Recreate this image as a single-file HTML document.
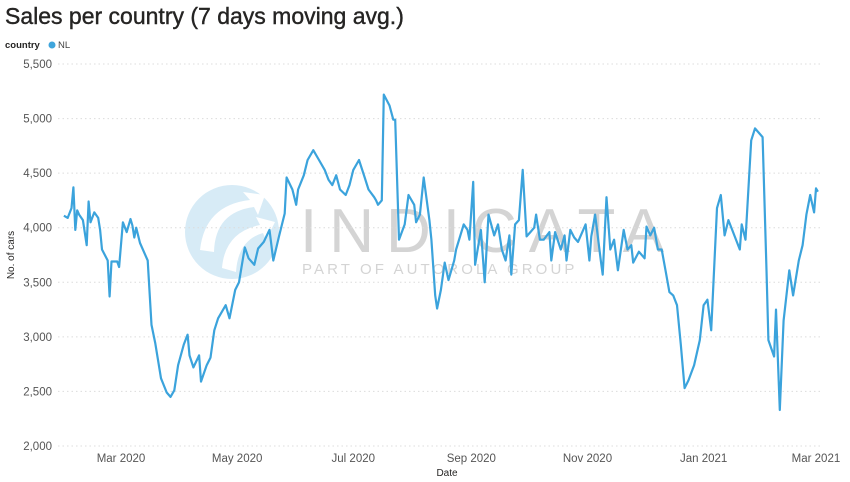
<!DOCTYPE html>
<html><head><meta charset="utf-8"><style>
body{margin:0;background:#fff;font-family:"Liberation Sans",sans-serif}
svg{display:block}
</style></head><body>
<svg width="850" height="482" id="chart">
<text x="5" y="24" font-size="23" fill="#252423" stroke="#252423" stroke-width="0.4">Sales per country (7 days moving avg.)</text>
<text x="5" y="48" font-size="9.5" font-weight="bold" fill="#252423">country</text>
<g><circle cx="52" cy="45" r="3.5" fill="#3fa5dc"/><text x="58" y="48" font-size="9.5" fill="#444">NL</text></g>
<g opacity="0.9">
<circle cx="232" cy="232" r="47" fill="#d3e9f6"/>
<path d="M200 250 Q205 205 250 200 L243 192 L265 195 L258 215 L254 207 Q215 212 214 252 Z" fill="#fff"/>
<path d="M222 268 Q225 232 260 225 L256 217 L275 222 L266 240 L263 233 Q238 240 236 272 Z" fill="#fff"/>
<text x="300" y="252" font-size="62" fill="#d0d0d0" letter-spacing="12">INDICATA</text>
<text x="302" y="274" font-size="15" fill="#d0d0d0" letter-spacing="3.1">PART OF AUTOROLA GROUP</text>
</g>
<g id="grid"></g>
<g id="yticks"></g>
<g id="xticks"></g>
<text x="447" y="476" font-size="10" fill="#252423" text-anchor="middle">Date</text>
<text transform="translate(14,255) rotate(-90)" font-size="10" fill="#252423" text-anchor="middle">No. of cars</text>
<path id="line" fill="none" stroke="#3ba3dc" stroke-width="2.2" stroke-linejoin="round"/>
</svg>
<script>
const days=[0,2,4,5,6,7,8,10,12,13,14,16,18,19,20,23,24,25,28,29,31,33,35,36,37,38,40,44,46,48,51,54,56,58,60,63,65,66,68,71,72,75,77,79,81,85,87,90,92,95,97,100,102,105,108,110,113,116,117,120,122,123,126,128,131,134,137,139,141,143,145,148,150,152,155,158,160,163,164,165,167,168,171,173,174,176,179,181,184,185,187,189,192,193,195,196,198,200,202,205,206,210,212,213,215,216,219,221,223,226,228,230,232,234,235,237,239,241,243,245,247,248,250,252,255,256,258,261,263,264,266,268,270,274,276,277,279,282,283,285,287,289,291,294,296,298,299,302,305,306,308,310,312,314,316,318,320,322,324,326,328,331,334,336,338,340,343,345,347,349,351,355,356,358,361,363,367,369,370,373,374,376,378,381,383,386,388,390,392,394,395,396];
const values=[4110,4090,4180,4370,3980,4160,4120,4070,3840,4240,4050,4140,4090,3980,3800,3700,3370,3690,3690,3640,4050,3960,4080,4020,3910,4000,3860,3700,3110,2940,2620,2490,2450,2510,2740,2930,3020,2830,2720,2830,2590,2740,2810,3060,3170,3290,3170,3430,3500,3820,3720,3660,3810,3870,3980,3700,3920,4130,4460,4350,4210,4350,4480,4620,4710,4620,4530,4440,4390,4480,4350,4300,4390,4530,4620,4460,4350,4280,4250,4210,4250,5220,5120,4990,4990,3890,4030,4300,4210,4050,4120,4460,4070,3890,3380,3260,3430,3680,3520,3700,3800,4030,3980,3890,4420,3660,3980,3500,4120,3930,4030,3800,3700,3930,3570,4030,4070,4530,3920,3960,4000,4120,3890,3890,3960,3700,3960,3800,3930,3700,3980,3910,3870,4030,3700,3920,4120,3700,3570,4280,3800,3890,3610,3980,3800,3840,3680,3780,3720,4010,3930,4000,3800,3800,3610,3410,3380,3290,2930,2530,2600,2740,2970,3290,3340,3060,4180,4300,3930,4070,3980,3800,4030,3890,4800,4910,4830,3610,2970,2820,3250,2330,3150,3610,3380,3700,3840,4120,4300,4140,4360,4330];
const yTicks=[2000,2500,3000,3500,4000,4500,5000,5500];
const xTickDays=[30,91,152,214,275,336,395];
const xTickLabels=["Mar 2020","May 2020","Jul 2020","Sep 2020","Nov 2020","Jan 2021","Mar 2021"];
const NS="http://www.w3.org/2000/svg";
function xs(d){return 121+(d-30)*1.904;}
function ys(v){return 446-(v-2000)*(382/3500);}
const grid=document.getElementById('grid'),yt=document.getElementById('yticks'),xt=document.getElementById('xticks');
yTicks.forEach(v=>{
 const l=document.createElementNS(NS,'line');
 
 
 l.setAttribute('x1',58);l.setAttribute('x2',820);l.setAttribute('y1',ys(v));l.setAttribute('y2',ys(v));
 l.setAttribute('stroke','#dcdcdc');l.setAttribute('stroke-dasharray','1.5,3');grid.appendChild(l);
 const t=document.createElementNS(NS,'text');
 
 
 t.setAttribute('x',52);t.setAttribute('y',ys(v)+4);t.setAttribute('text-anchor','end');
 t.setAttribute('font-size','11.5');t.setAttribute('fill','#555');
 t.textContent=v.toLocaleString('en-US');yt.appendChild(t);
});
xTickDays.forEach((d,i)=>{
 const t=document.createElementNS(NS,'text');
 
 
 t.setAttribute('x',xs(d));t.setAttribute('y',462);t.setAttribute('text-anchor','middle');
 t.setAttribute('font-size','11.5');t.setAttribute('fill','#555');
 t.textContent=xTickLabels[i];xt.appendChild(t);
});
document.getElementById('line').setAttribute('d',days.map((d,i)=>(i?'L':'M')+xs(d).toFixed(1)+' '+ys(values[i]).toFixed(1)).join(' '));
</script>
</body></html>
